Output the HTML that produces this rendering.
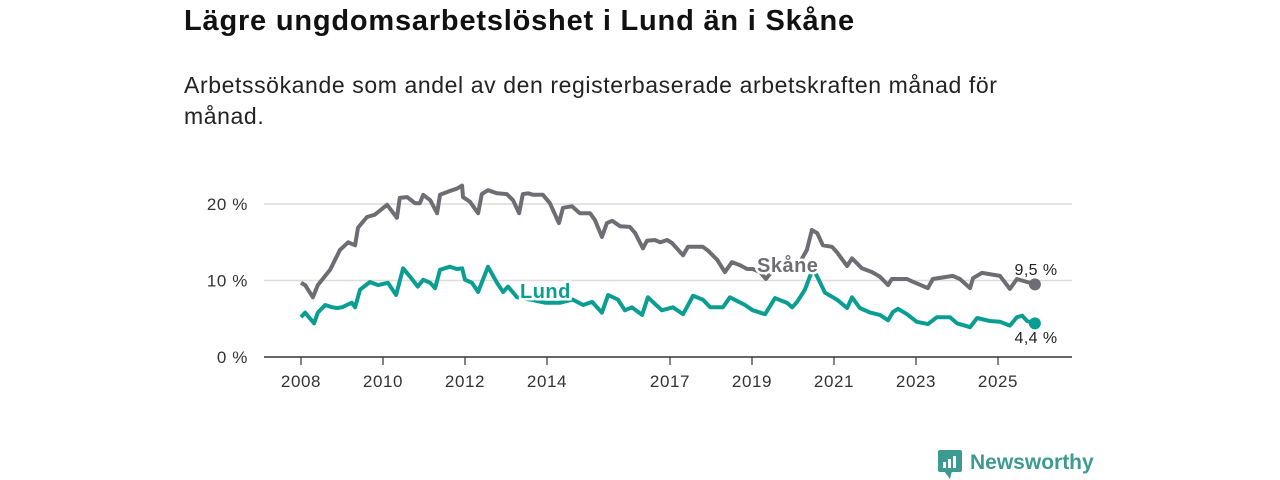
<!DOCTYPE html>
<html><head><meta charset="utf-8">
<style>
body{margin:0;width:1280px;height:480px;background:#fff;font-family:"Liberation Sans",sans-serif;overflow:hidden;position:relative}
h1{position:absolute;left:184px;top:5px;margin:0;font-size:29px;letter-spacing:0.8px;font-weight:bold;color:#111}
p.sub{position:absolute;left:184px;top:70px;margin:0;font-size:23px;letter-spacing:0.6px;line-height:31px;color:#222;width:860px}
svg{position:absolute;left:0;top:0}
</style></head><body>
<h1>Lägre ungdomsarbetslöshet i Lund än i Skåne</h1>
<p class="sub">Arbetssökande som andel av den registerbaserade arbetskraften månad för månad.</p>
<svg id="chart" width="1280" height="480"></svg>
<script>
const yTicks=[0,10,20];
const yTickLabels=["0 %","10 %","20 %"];
const xTicks=[2008,2010,2012,2014,2017,2019,2021,2023,2025];
const skaneYears=[2008.0,2008.1,2008.29,2008.41,2008.71,2008.95,2009.15,2009.32,2009.39,2009.61,2009.8,2010.1,2010.34,2010.41,2010.59,2010.78,2010.9,2010.98,2011.15,2011.32,2011.39,2011.63,2011.8,2011.93,2011.95,2012.12,2012.32,2012.41,2012.56,2012.78,2013.02,2013.17,2013.32,2013.41,2013.54,2013.66,2013.9,2014.07,2014.29,2014.39,2014.61,2014.8,2015.05,2015.17,2015.34,2015.46,2015.59,2015.78,2016.02,2016.15,2016.34,2016.44,2016.63,2016.76,2016.93,2017.05,2017.32,2017.44,2017.8,2017.93,2018.15,2018.34,2018.51,2018.71,2018.88,2019.02,2019.2,2019.34,2019.49,2019.8,2020.17,2020.34,2020.46,2020.59,2020.73,2020.95,2021.07,2021.32,2021.44,2021.68,2021.93,2022.12,2022.32,2022.41,2022.78,2022.9,2023.29,2023.41,2023.9,2024.07,2024.32,2024.39,2024.61,2025.05,2025.29,2025.46,2025.71,2025.9];
const skaneValues=[9.7,9.4,7.8,9.4,11.4,14.0,15.0,14.6,16.9,18.3,18.6,19.9,18.2,20.8,20.9,20.1,20.1,21.2,20.5,18.8,21.2,21.7,22.0,22.4,20.9,20.3,18.8,21.3,21.8,21.4,21.3,20.5,18.8,21.3,21.4,21.2,21.2,20.1,17.5,19.5,19.7,18.8,18.8,17.9,15.7,17.5,17.8,17.1,17.0,16.2,14.2,15.2,15.3,15.0,15.3,14.9,13.3,14.4,14.4,13.9,12.7,11.1,12.4,12.0,11.5,11.5,11.1,10.2,11.2,12.0,12.4,14.0,16.6,16.2,14.6,14.4,13.7,11.9,12.9,11.6,11.1,10.5,9.4,10.2,10.2,9.9,9.0,10.2,10.6,10.2,9.0,10.3,11.0,10.6,8.9,10.2,9.8,9.5];
const lundYears=[2008.0,2008.1,2008.32,2008.41,2008.59,2008.76,2008.88,2009.0,2009.24,2009.32,2009.44,2009.68,2009.88,2010.12,2010.32,2010.49,2010.66,2010.85,2010.98,2011.15,2011.27,2011.39,2011.63,2011.8,2011.93,2012.0,2012.17,2012.32,2012.56,2012.78,2012.93,2013.05,2013.27,2013.59,2013.95,2014.32,2014.63,2014.88,2015.1,2015.34,2015.49,2015.73,2015.9,2016.07,2016.32,2016.46,2016.8,2017.07,2017.32,2017.56,2017.8,2017.98,2018.29,2018.46,2018.83,2019.02,2019.32,2019.56,2019.85,2019.98,2020.1,2020.29,2020.41,2020.49,2020.61,2020.78,2021.07,2021.32,2021.44,2021.63,2021.88,2022.12,2022.32,2022.44,2022.56,2022.78,2023.02,2023.29,2023.51,2023.83,2024.0,2024.32,2024.49,2024.8,2025.05,2025.29,2025.46,2025.59,2025.71,2025.9];
const lundValues=[5.2,5.8,4.4,5.8,6.8,6.5,6.4,6.5,7.1,6.5,8.8,9.8,9.4,9.7,8.1,11.6,10.5,9.2,10.1,9.7,9.0,11.4,11.8,11.5,11.6,10.1,9.7,8.5,11.8,9.7,8.5,9.2,7.8,7.5,7.1,7.1,7.5,6.8,7.2,5.8,8.1,7.5,6.1,6.5,5.5,7.8,6.1,6.5,5.6,8.0,7.5,6.5,6.5,7.8,6.8,6.1,5.6,7.7,7.1,6.5,7.2,8.8,10.5,11.6,10.3,8.4,7.5,6.4,7.8,6.4,5.8,5.5,4.8,5.9,6.3,5.6,4.6,4.3,5.2,5.2,4.4,3.9,5.1,4.7,4.6,4.1,5.2,5.4,4.7,4.4];

const NS="http://www.w3.org/2000/svg";
const svg=document.getElementById('chart');
const X=yr=>301+(yr-2008)*41;
const Y=v=>357-v*7.65;
function mk(t,a){const e=document.createElementNS(NS,t);for(const k in a)e.setAttribute(k,a[k]);svg.appendChild(e);return e;}
yTicks.forEach((v,i)=>{
  if(v>0){const g=mk('line',{x1:264,x2:1072,y1:Y(v),y2:Y(v),stroke:'#dcdcdc','stroke-width':1.5});
  
  }
  const t=mk('text',{x:248,y:Y(v)+6,'text-anchor':'end','font-size':17,'letter-spacing':0.6,fill:'#333','font-family':'Liberation Sans, sans-serif'});
  t.textContent=yTickLabels[i];
  
  
});
const ax=mk('line',{x1:264,x2:1072,y1:357,y2:357,stroke:'#333','stroke-width':1.5});


xTicks.forEach(yr=>{
  const l=mk('line',{x1:X(yr),x2:X(yr),y1:357,y2:365,stroke:'#333','stroke-width':1.2});
  
  
  const t=mk('text',{x:X(yr),y:387,'text-anchor':'middle','font-size':17,'letter-spacing':0.6,fill:'#333','font-family':'Liberation Sans, sans-serif'});
  t.textContent=yr;
  
  
});
function series(years,vals,color,name){
  const d=years.map((y,i)=>(i?'L':'M')+X(y).toFixed(1)+','+Y(vals[i]).toFixed(1)).join('');
  const p=mk('path',{d:d,fill:'none',stroke:color,'stroke-width':4,'stroke-linejoin':'round'});
  
  
  const n=years.length-1;
  const c=mk('circle',{cx:X(years[n]),cy:Y(vals[n]),r:6,fill:color});
  
  
}
series(skaneYears,skaneValues,'#6e6d73','skane');
series(lundYears,lundValues,'#0a9e92','lund');
function label(x,y,txt,color,name,bold,anchor){
  const t=mk('text',{x:x,y:y,'font-size':bold?20:16,'letter-spacing':bold?0.5:0.4,'font-weight':bold?'bold':'normal',fill:color,'text-anchor':anchor||'start','font-family':'Liberation Sans, sans-serif',stroke:bold?'#fff':'none','stroke-width':bold?5:0,'paint-order':'stroke'});
  t.textContent=txt;
  
  
}
label(757,272,'Skåne','#6e6d73','skane-label',true);
label(520,298,'Lund','#0a9e92','lund-label',true);
label(1036,275,'9,5 %','#222','skane-end-value',false,'middle');
label(1036,343,'4,4 %','#222','lund-end-value',false,'middle');
// logo
const lg=mk('rect',{x:938,y:450,width:24,height:22,rx:2,fill:'#3d9a90'});


const lp=mk('path',{d:'M944,471 L950,479 L952,471 Z',fill:'#3d9a90'});


[[943,462,3,6],[948,459,3,9],[953,456,3,12]].forEach(b=>{
  const r=mk('rect',{x:b[0],y:b[1],width:b[2],height:b[3],fill:'#fff'});
  
  
});
const lt=mk('text',{x:970,y:469,'font-size':21,'font-weight':'bold',fill:'#3d9a90','font-family':'Liberation Sans, sans-serif'});
lt.textContent='Newsworthy';


</script>
</body></html>
